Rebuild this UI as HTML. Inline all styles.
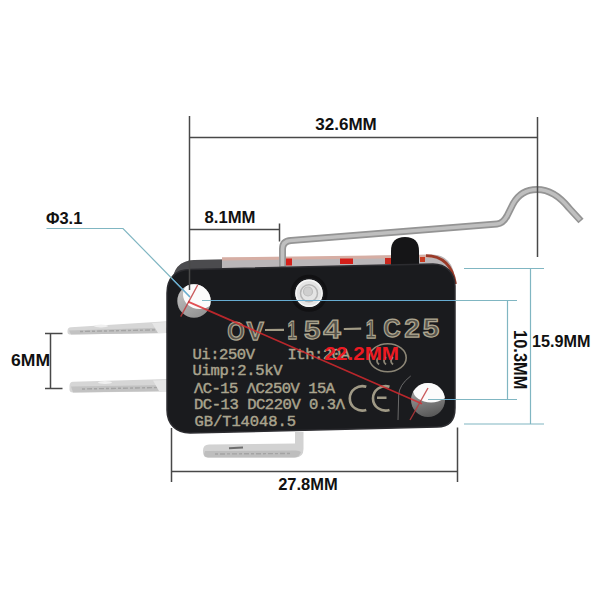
<!DOCTYPE html>
<html><head><meta charset="utf-8">
<style>
html,body{margin:0;padding:0;background:#fff;width:600px;height:600px;overflow:hidden}
svg{display:block}
.dim{font-family:"Liberation Sans",sans-serif;font-weight:bold;fill:#111}
.mono{font-family:"Liberation Mono",monospace;fill:#a99f86}
</style></head>
<body>
<svg width="600" height="600" viewBox="0 0 600 600">
<defs>
  <radialGradient id="holeg" cx="0.6" cy="0.35" r="0.7">
    <stop offset="0" stop-color="#ffffff"/>
    <stop offset="0.55" stop-color="#f2f2f2"/>
    <stop offset="1" stop-color="#9a9a9a"/>
  </radialGradient>
  <linearGradient id="wallg" x1="0" y1="0" x2="0.6" y2="1">
    <stop offset="0" stop-color="#d0d0d0"/>
    <stop offset="1" stop-color="#8a8a8a"/>
  </linearGradient>
  <linearGradient id="wallg2" x1="0" y1="0" x2="0.3" y2="1">
    <stop offset="0" stop-color="#c0c0c0"/>
    <stop offset="1" stop-color="#505050"/>
  </linearGradient>
  <linearGradient id="termg" x1="0" y1="0" x2="0" y2="1">
    <stop offset="0" stop-color="#e4e4e4"/>
    <stop offset="0.5" stop-color="#d0d0d0"/>
    <stop offset="1" stop-color="#a8a8a8"/>
  </linearGradient>
</defs>
<rect width="600" height="600" fill="#fff"/>

<!-- terminals -->
<path d="M67.5,331 Q67.5,327.5 71,327.3 L167,321.3 L167,333 L71,334.6 Q67.5,334.6 67.5,332 Z" fill="#d6d6d6"/>
<path d="M69,330.5 L167,327.5 L167,333 L71,334.6 Z" fill="#c2c2c2"/>
<ellipse cx="101" cy="326" rx="7" ry="1.4" fill="#f0f0f0"/>
<path d="M69.5,386 Q69.5,382 73,381.8 L168,379 L168,391.5 L73,392.5 Q69.5,392.5 69.5,389.5 Z" fill="#d6d6d6"/>
<path d="M71,386.5 L168,385 L168,391 L73,392.6 Z" fill="#c2c2c2"/>
<ellipse cx="105" cy="382.5" rx="7" ry="1.4" fill="#f0f0f0"/>
<path d="M203,450.5 Q203,444.5 209,444.5 L295,443.5 L295,432 L303.5,432 L303.5,449 Q303.5,457.5 295,457.5 L208,457.5 Q203,457.5 203,452 Z" fill="#d2d2d2"/>
<path d="M205,451 L294,450.5 Q299,450 301,452 Q299,457.5 294,457.5 L208,457.5 Q204,457 204,454 Z" fill="#bebebe"/>
<path d="M229,448.3 L243,447.6" stroke="#6e6e6e" stroke-width="2"/>

<path d="M80,331.5 L160,329.8 M82,389 L160,387.5 M215,454 L290,453.5" stroke="#a4a4a4" stroke-width="1.4" stroke-dasharray="3 2 5 2" fill="none"/>
<path d="M152,323 L166,322 L166,333 L158,333 Z" fill="#e6e6e6"/>
<path d="M153,380.5 L167,380 L167,391 L159,391 Z" fill="#e6e6e6"/>
<!-- body back band -->
<path d="M172,284 Q173,261 194,260 L432,254.5 Q453,255 455,280 L455,292 L168,292 Z" fill="#bab6b8"/>
<path d="M172,284 Q173,261 194,260 L222,259.4 L222,292 L168,292 Z" fill="#4b4b4e"/>
<path d="M222,257.3 L432,254.8 L432,258 L222,260.5 Z" fill="#d6aea4"/>
<path d="M426,255.6 Q451,256 455.5,284" stroke="#9a3a28" stroke-width="2.8" fill="none"/>
<rect x="420" y="257" width="5" height="5" fill="#c83a20"/>
<rect x="285" y="258.5" width="7" height="7" fill="#d4201a"/>
<rect x="340" y="258.5" width="13" height="5.5" fill="#d4201a"/>
<rect x="385" y="258" width="7" height="6" fill="#c8281e"/>
<!-- lever -->
<path d="M282.5,268 L282.5,249 Q282.5,241 291,240.5 L497,224 Q503,223.5 507,216 L513,204 C519,193 527,189.5 537,189.5 C551,189.5 561,198 569,208 L581,221" fill="none" stroke="#949494" stroke-width="7" stroke-linecap="butt" stroke-linejoin="round"/>
<path d="M282.5,266 L282.5,249 Q282.5,241 291,240.5 L497,224 Q503,223.5 507,216 L513,204 C519,193 527,189.5 537,189.5 C551,189.5 561,198 569,208 L580,220" fill="none" stroke="#bfbfbf" stroke-width="3.6" stroke-linecap="butt" stroke-linejoin="round"/>
<!-- plunger -->
<path d="M391,268 L391,251 Q391,237 405,237 Q419,237 419,251 L419,268 Z" fill="#151517"/>
<!-- body front -->
<path d="M167,293 C167,278 176,269.5 190,269.5 L433,264 C446,264 455,273 455,286 L455,408 C455,420 449,427 437,427 L190,433 C176,433 167,424 167,410 Z" fill="#1a1b1e" stroke="#2c2c30" stroke-width="1.5"/>

<!-- holes -->
<clipPath id="h1"><circle cx="194" cy="301" r="16.7"/></clipPath>
<clipPath id="h2"><circle cx="428" cy="400" r="17"/></clipPath>
<g clip-path="url(#h1)">
  <rect x="170" y="280" width="50" height="45" fill="url(#wallg)"/>
  <ellipse cx="199.5" cy="294.5" rx="16.5" ry="14.5" fill="#fbfbfb"/>
</g>
<g clip-path="url(#h2)">
  <rect x="405" y="378" width="50" height="45" fill="url(#wallg2)"/>
  <ellipse cx="431" cy="390" rx="18" ry="12.5" fill="#fbfbfb"/>
</g>
<circle cx="309" cy="293.3" r="17" fill="none" stroke="#111113" stroke-width="3"/>
<circle cx="309" cy="293.3" r="13.7" fill="#e4e4e4"/>
<circle cx="309" cy="293.3" r="13" fill="none" stroke="#f6f6f6" stroke-width="1.5"/>
<circle cx="309" cy="293.3" r="8.5" fill="none" stroke="#b5b5b5" stroke-width="1.5"/>
<circle cx="308" cy="291.5" r="4.5" fill="#cfcfcf" stroke="#bdbdbd" stroke-width="1.2"/>

<!-- body text -->
<g font-family="Liberation Sans" font-weight="bold" font-size="26.5" fill="#55524a" stroke="#aea690" stroke-width="1.25">
<text x="227.3" y="340.0" textLength="17.5" lengthAdjust="spacingAndGlyphs">O</text>
<text x="246.6" y="339.7" textLength="17.4" lengthAdjust="spacingAndGlyphs">V</text>
<text x="287.6" y="339.0" textLength="9.3" lengthAdjust="spacingAndGlyphs">1</text>
<text x="303.9" y="338.7" textLength="16.4" lengthAdjust="spacingAndGlyphs">5</text>
<text x="323.2" y="338.4" textLength="17.5" lengthAdjust="spacingAndGlyphs">4</text>
<text x="365.8" y="337.7" textLength="10.1" lengthAdjust="spacingAndGlyphs">1</text>
<text x="383.2" y="337.4" textLength="17.4" lengthAdjust="spacingAndGlyphs">C</text>
<text x="404.3" y="337.1" textLength="15.7" lengthAdjust="spacingAndGlyphs">2</text>
<text x="422.7" y="336.8" textLength="16.5" lengthAdjust="spacingAndGlyphs">5</text>
</g>
<path d="M265,330 L284,329.8 M343.8,329 L361.2,328.7" stroke="#a39c86" stroke-width="2.2"/>
<g font-family="Liberation Mono" font-size="15.5" fill="#aaa48e" stroke="#aaa48e" stroke-width="0.45">
<text x="192.5" y="358.75" textLength="62.5" lengthAdjust="spacing">Ui:250V</text>
<text x="287.5" y="358.75" textLength="62.5" lengthAdjust="spacing">Ith:20A</text>
<text x="192.5" y="375" textLength="90" lengthAdjust="spacing">Uimp:2.5kV</text>
<text x="194" y="392.7" textLength="141" lengthAdjust="spacing">ΛC-15 ΛC250V 15A</text>
<text x="194" y="409.3" textLength="151" lengthAdjust="spacing">DC-13 DC220V 0.3Λ</text>
<text x="194.5" y="425.5" textLength="101.5" lengthAdjust="spacing">GB/T14048.5</text>
</g>
<!-- CQC oval -->
<ellipse cx="387.7" cy="357.7" rx="18.5" ry="14" fill="none" stroke="#8c8676" stroke-width="1.6"/>
<path d="M379,357 Q375,361 379,364.5 M386,357 Q382,361 386,364.5 M393,357 Q389,361 393,364.5" fill="none" stroke="#8c8676" stroke-width="1.8"/>
<!-- CE -->
<path d="M366.3,386.8 A12.6,12.2 0 1 0 366.3,410" fill="none" stroke="#a09a86" stroke-width="2.6"/>
<path d="M389.5,386.8 A12.6,12.2 0 1 0 389.5,410 M377,397.8 L386.5,397.8" fill="none" stroke="#a09a86" stroke-width="2.6"/>
<path d="M410.7,376 Q399,385 398.7,395 L398,420" fill="none" stroke="#6a6a6a" stroke-width="1"/>

<!-- dimension lines -->
<g stroke="#484848" stroke-width="1.5" fill="none">
  <path d="M189.5,116 L189.5,290"/>
  <path d="M537.5,117 L537.5,257"/>
  <path d="M189,137.5 L538,137.5"/>
  <path d="M189,229.5 L279.5,229.5 M279.5,223.5 L279.5,241.5"/>
  <path d="M50.5,333 L50.5,389 M45,333.5 L62.5,333.5 M45,388.5 L62.5,388.5"/>
  <path d="M171.5,428 L171.5,482 M457.5,427.5 L457.5,482 M171.5,471.5 L457.5,471.5"/>
</g>
<g stroke="#80b6c2" stroke-width="1.2" fill="none">
  <path d="M46.5,228.5 L123,228.5 L190,297"/>
  <path d="M464,268.5 L544,268.5 M464,424 L544,424 M530.5,268 L530.5,424"/>
  <path d="M202,300.5 L517,300.5 M428,399.5 L517,399.5 M507.5,300 L507.5,399.5"/>
</g>
<g stroke="#66acd2" stroke-width="1.2" fill="none">
  <path d="M211,300.5 L455,300.5 M445,399.5 L455,399.5 M172,278.6 L190,297"/>
</g>
<g stroke="#dc2a2e" stroke-width="1.7" fill="none" stroke-opacity="0.82">
  <path d="M188,301.6 L422,403.7"/>
  <path d="M197.7,285 L180.7,316.7 M428,388 L410,420" stroke-width="1.4" stroke="#c0383a"/>
</g>
<text x="324.5" y="359.6" font-family="Liberation Sans" font-weight="bold" font-size="19" fill="#ec1a22" textLength="74.5" lengthAdjust="spacingAndGlyphs">22.2MM</text>

<!-- dimension text -->
<text class="dim" x="315.3" y="129.5" font-size="16.8" textLength="61.5" lengthAdjust="spacingAndGlyphs">32.6MM</text>
<text class="dim" x="204.5" y="222.6" font-size="16" textLength="51" lengthAdjust="spacingAndGlyphs">8.1MM</text>
<text class="dim" x="46" y="223.5" font-size="17" textLength="36.3" lengthAdjust="spacingAndGlyphs">Φ3.1</text>
<text class="dim" x="11" y="366" font-size="16" textLength="39" lengthAdjust="spacingAndGlyphs">6MM</text>
<text class="dim" x="278.2" y="489.6" font-size="16" textLength="59.6" lengthAdjust="spacingAndGlyphs">27.8MM</text>
<text class="dim" x="532" y="347.3" font-size="17" textLength="58.5" lengthAdjust="spacingAndGlyphs">15.9MM</text>
<text class="dim" transform="translate(513.5,330) rotate(90)" x="0" y="0" font-size="18.5" textLength="59.5" lengthAdjust="spacingAndGlyphs">10.3MM</text>
</svg>
</body></html>
